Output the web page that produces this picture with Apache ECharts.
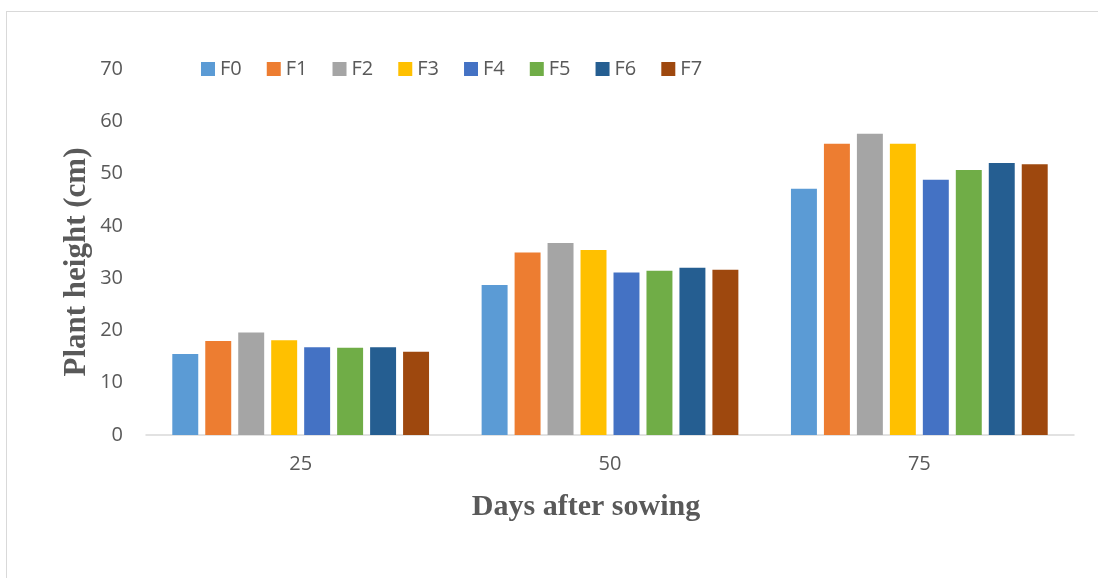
<!DOCTYPE html>
<html>
<head>
<meta charset="utf-8">
<script src="https://cdn.jsdelivr.net/npm/echarts@6/dist/echarts.min.js"></script>
<style>
html,body{margin:0;padding:0;background:#fff;}
#wrap{position:relative;width:1098px;height:578px;overflow:hidden;}
#frame{position:absolute;left:6px;top:11px;width:1100px;height:580px;border-top:1.5px solid #d9d9d9;border-left:1.5px solid #d9d9d9;}
#chart{position:absolute;left:0;top:0;width:1098px;height:578px;}
</style>
</head>
<body>
<div id="wrap"><div id="frame"></div><div id="chart"></div></div>
<script>
const categories = ['25', '50', '75'];
const seriesNames = ['F0', 'F1', 'F2', 'F3', 'F4', 'F5', 'F6', 'F7'];
const F0 = [15.5, 28.7, 47.1];
const F1 = [18.0, 34.9, 55.7];
const F2 = [19.6, 36.7, 57.6];
const F3 = [18.1, 35.4, 55.7];
const F4 = [16.8, 31.1, 48.8];
const F5 = [16.7, 31.4, 50.7];
const F6 = [16.8, 32.0, 52.0];
const F7 = [15.9, 31.6, 51.8];
const yTicks = [0, 10, 20, 30, 40, 50, 60, 70];
const colors = ['#5B9BD5', '#ED7D31', '#A5A5A5', '#FFC000', '#4472C4', '#70AD47', '#255E91', '#9E480E'];
const values = [F0, F1, F2, F3, F4, F5, F6, F7];

const chart = echarts.init(document.getElementById('chart'), null, {renderer: 'canvas'});
const txt = '#595959';
chart.setOption({
  animation: false,
  color: colors,
  grid: {left: 146, right: 24, top: 69, bottom: 143, containLabel: false},
  legend: {
    data: seriesNames,
    left: 196, top: 54,
    itemWidth: 14, itemHeight: 14, itemGap: 25,
    icon: 'rect',
    textStyle: {color: txt, fontSize: 20, fontFamily: 'Open Sans'}
  },
  xAxis: {
    type: 'category',
    data: categories,
    axisLine: {lineStyle: {color: '#d9d9d9', width: 1.5}},
    axisTick: {show: false},
    axisLabel: {color: txt, fontSize: 20, fontFamily: 'Open Sans', margin: 19}
  },
  yAxis: {
    type: 'value',
    min: yTicks[0], max: yTicks[yTicks.length - 1], interval: 10,
    splitLine: {show: false},
    axisLine: {show: false},
    axisTick: {show: false},
    axisLabel: {color: txt, fontSize: 20, fontFamily: 'Open Sans', margin: 23}
  },
  graphic: [
    {type: 'text', x: 77, y: 262, rotation: Math.PI / 2,
     style: {text: 'Plant height (cm)', fill: txt, font: 'bold 31px "Liberation Serif"', align: 'center', verticalAlign: 'middle'}},
    {type: 'text', x: 586, y: 507,
     style: {text: 'Days after sowing', fill: txt, font: 'bold 30px "Liberation Serif"', align: 'center', verticalAlign: 'middle'}}
  ],
  series: seriesNames.map((n, i) => ({
    name: n,
    type: 'bar',
    data: values[i],
    barGap: '27%',
    barCategoryGap: '17%',
    itemStyle: {color: colors[i]}
  }))
});
</script>
</body>
</html>
